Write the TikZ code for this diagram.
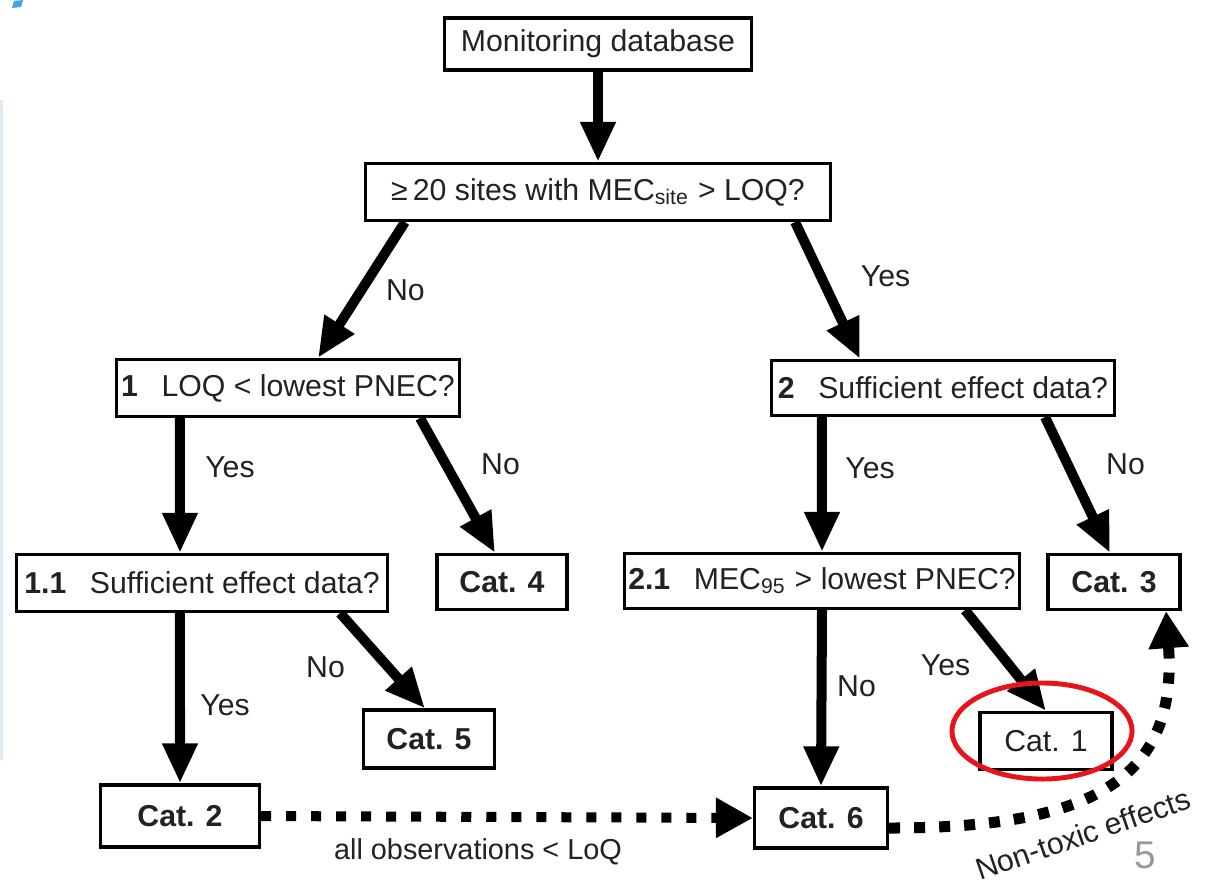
\documentclass[tikz,border=0pt]{standalone}
\usepackage{fontspec}
\setmainfont{Liberation Sans}
\usepackage{tikz}
\usetikzlibrary{arrows.meta,positioning}

\definecolor{txt}{HTML}{222222}
\definecolor{slideblue}{HTML}{3DA5E8}
\definecolor{paleblue}{HTML}{DDEBF7}
\definecolor{ringred}{HTML}{E8141B}

\tikzset{
  box/.style={draw, line width=0.9pt, inner sep=0pt, text=txt,
    font=\fontsize{8.6}{10}\selectfont},
  arr/.style={line width=0.1cm, -{Triangle[length=0.40cm,width=0.33cm]}},
  dots/.style={line width=0.1cm, dash pattern=on 0.1cm off 0.15cm,
    -{Triangle[length=0.37cm,width=0.38cm]}},
  lbl/.style={text=txt, font=\fontsize{8.6}{10}\selectfont},
}

\begin{document}
\begin{tikzpicture}[x=0.01cm, y=-0.01cm]
    \useasboundingbox (0,0) rectangle (1206,881);
    \fill[white] (0,0) rectangle (1206,881);
    % slide leftovers
    \fill[slideblue] (12,8) -- (14,1) -- (23,0) -- (21,7) -- cycle;
    \fill[paleblue] (0,100) rectangle (3,760);

    \node[box, minimum width=3.07cm, minimum height=0.52cm] (mdb) at (598,44) {Monitoring database};
    \node[box, minimum width=4.64cm, minimum height=0.57cm] (q0) at (598,192) {≥\,20 sites with MEC\textsubscript{site} > LOQ?};
    \node[box, minimum width=3.42cm, minimum height=0.57cm] (q1) at (288,388) {\textbf{1}\hspace{0.5em} LOQ < lowest PNEC?};
    \node[box, minimum width=3.43cm, minimum height=0.55cm] (q2) at (943,388) {\textbf{2}\hspace{0.5em} Sufficient effect data?};
    \node[box, minimum width=3.70cm, minimum height=0.57cm] (q11) at (202,583) {\textbf{1.1}\hspace{0.5em} Sufficient effect data?};
    \node[box, minimum width=1.30cm, minimum height=0.55cm] (c4) at (502,582) {\textbf{Cat. 4}};
    \node[box, minimum width=3.95cm, minimum height=0.55cm] (q21) at (822,581) {\textbf{2.1}\hspace{0.5em} MEC\textsubscript{95} > lowest PNEC?};
    \node[box, minimum width=1.32cm, minimum height=0.55cm] (c3) at (1114,582) {\textbf{Cat. 3}};
    \node[box, minimum width=1.31cm, minimum height=0.58cm] (c5) at (429,739) {\textbf{Cat. 5}};
    \node[box, minimum width=1.32cm, minimum height=0.57cm] (c1) at (1046,741) {Cat. 1};
    \node[box, minimum width=1.59cm, minimum height=0.62cm] (c2) at (180,816) {\textbf{Cat. 2}};
    \node[box, minimum width=1.33cm, minimum height=0.60cm] (c6) at (821,818) {\textbf{Cat. 6}};

    \draw[arr] (mdb.south) -- (q0.north);
    \draw[arr] ([xshift=-1.93cm]q0.south) -- node[lbl, xshift=0.44cm] {No} ([xshift=0.30cm]q1.north);
    \draw[arr] ([xshift=1.97cm]q0.south) -- node[lbl, xshift=0.58cm, yshift=0.14cm] {Yes} ([xshift=-0.83cm]q2.north);
    \draw[arr] ([xshift=-1.08cm]q1.south) -- node[lbl, xshift=0.50cm, yshift=0.18cm] {Yes} ([xshift=-0.22cm]q11.north);
    \draw[arr] ([xshift=1.32cm]q1.south) -- node[lbl, xshift=0.43cm, yshift=0.21cm] {No} ([xshift=-0.07cm]c4.north);
    \draw[arr] ([xshift=-1.21cm]q2.south) -- node[lbl, xshift=0.48cm, yshift=0.16cm] {Yes} (q21.north);
    \draw[arr] ([xshift=1.02cm]q2.south) -- node[lbl, xshift=0.48cm, yshift=0.21cm] {No} ([xshift=-0.04cm]c3.north);
    \draw[arr] ([xshift=-0.22cm]q11.south) -- node[lbl, xshift=0.45cm, yshift=-0.07cm] {Yes} (c2.north);
    \draw[arr] ([xshift=1.38cm]q11.south) -- node[lbl, xshift=-0.57cm, yshift=-0.06cm] {No} ([xshift=-0.04cm]c5.north);
    \draw[arr] (q21.south) -- node[lbl, xshift=0.35cm, yshift=0.12cm] {No} (c6.north);
    \draw[arr] ([xshift=1.43cm]q21.south) -- node[lbl, xshift=-0.60cm, yshift=-0.05cm] {Yes} (c1.north);

    \draw[dots] (c2.east) -- node[lbl, below=0.05cm, xshift=-0.29cm, font=\fontsize{8.2}{10}\selectfont] (obs) {all observations < LoQ} (c6.west);
    \draw[dots, line width=0.11cm, dash pattern=on 0.11cm off 0.14cm]
        ([yshift=-0.1cm]c6.east) .. controls +(2.0cm,0) and +(0.12cm,-1.7cm) .. ([xshift=0.52cm]c3.south);
    \node[lbl, rotate=19] (ntx) at (1083,834) {Non-toxic effects};

    \draw[ringred, line width=1.4pt] (1042,731) ellipse [x radius=0.90cm, y radius=0.48cm];
    \node[text=gray!80, font=\fontsize{11}{12}\selectfont] (pg) at (1145,855) {5};
\end{tikzpicture}
\end{document}
